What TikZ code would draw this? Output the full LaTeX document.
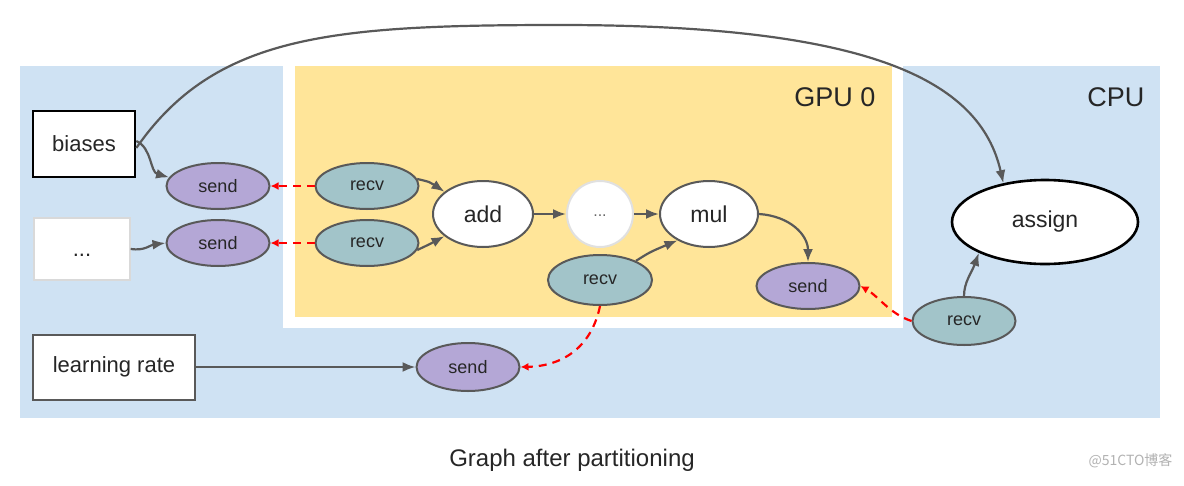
\documentclass[tikz,border=0pt]{standalone}
\usepackage{fontspec}
\setmainfont{Liberation Sans}
\newfontfamily\cjk{Noto Sans CJK SC}
\usetikzlibrary{shapes.geometric,arrows.meta}
\definecolor{cpubg}{HTML}{CFE2F3}
\definecolor{gpubg}{HTML}{FFE599}
\definecolor{sendfill}{HTML}{B4A7D6}
\definecolor{recvfill}{HTML}{A2C4C9}
\definecolor{edgegray}{HTML}{595959}
\definecolor{txtgray}{HTML}{262626}
\begin{document}
\begin{tikzpicture}[x=1pt,y=-1pt,
  boxnode/.style={draw=edgegray, line width=2pt, fill=white, rectangle, inner sep=0pt, text=txtgray, font=\fontsize{22}{26}\selectfont},
  sendnode/.style={ellipse, draw=edgegray, line width=2pt, fill=sendfill, inner sep=0pt, minimum width=103, minimum height=46, text=txtgray, font=\fontsize{18}{21}\selectfont},
  recvnode/.style={ellipse, draw=edgegray, line width=2pt, fill=recvfill, inner sep=0pt, minimum width=103, minimum height=46, text=txtgray, font=\fontsize{18}{21}\selectfont},
  opnode/.style={ellipse, draw=edgegray, line width=2pt, fill=white, inner sep=0pt, minimum width=100, minimum height=66, text=txtgray, font=\fontsize{23}{27}\selectfont},
  conn/.style={draw=edgegray, line width=2.2pt, -{Latex[length=13pt,width=10pt]}},
  rdash/.style={draw=red, line width=2.2pt, dash pattern=on 8pt off 6pt, -{Latex[length=8pt,width=8pt]}},
  devlabel/.style={anchor=east, text=txtgray, font=\fontsize{27}{31}\selectfont}
]
\useasboundingbox (0,0) rectangle (1184,485);
\fill[white] (0,0) rectangle (1184,485);
% regions
\fill[cpubg] (20,66) rectangle (1160,418);
\fill[white] (283,66) rectangle (903,328);
\fill[gpubg] (295,66) rectangle (892,317);
\node[devlabel] (gpulabel) at (879,97) {GPU 0};
\node[devlabel] (cpulabel) at (1148,97) {CPU};
% CPU source nodes
\node[boxnode, draw=black, line width=2.6pt, minimum width=102, minimum height=66] (biases) at (84,144) {biases};
\node[boxnode, draw=black!15, line width=1.4pt, minimum width=96, minimum height=62] (more) at (82,249) {};
\node[text=txtgray, font=\fontsize{22}{26}\selectfont, inner sep=0pt] (moretext) at (82,255) {...};
\node[boxnode, minimum width=162, minimum height=65] (lr) at (114,367) {learning rate};
\node[sendnode] (send1) at (218,186) {send};
\node[sendnode] (send2) at (218,243) {send};
\node[sendnode, minimum height=48] (send4) at (468,367) {send};
\node[opnode, draw=black, line width=2.6pt, minimum width=186, minimum height=84] (assign) at (1045,222) {assign};
\node[recvnode, minimum height=48] (recv4) at (964,321) {recv};
% GPU nodes
\node[recvnode] (recv1) at (367,186) {recv};
\node[recvnode] (recv2) at (367,243) {recv};
\node[opnode] (add) at (483,214) {add};
\node[opnode, circle, draw=black!12, minimum size=66, text=black!60, font=\fontsize{16}{20}\selectfont] (dots) at (600,214) {\raisebox{-4pt}{...}};
\node[opnode, minimum width=98] (mul) at (709,214) {mul};
\node[recvnode, minimum width=104, minimum height=50] (recv3) at (600,280) {recv};
\node[sendnode] (send3) at (808,286) {send};
% caption and watermark
\node[text=txtgray, font=\fontsize{24}{28}\selectfont] (caption) at (572,460) {Graph after partitioning};
\node[anchor=east, text=black!30, font=\cjk\fontsize{14}{16}\selectfont] (wm) at (1176,461) {@51CTO博客};
% connectors
\draw[conn] ([yshift=-4]biases.east) .. controls (215,35) and (330,25) .. (560,25) .. controls (870,25) and (980,80) .. (assign.137);
\draw[conn] ([yshift=3]biases.east) .. controls (152,148) and (150,172) .. (send1.170);
\draw[conn] (more.east) .. controls (145,251) and (150,245) .. (send2.west);
\draw[conn] (lr.east) -- (send4.west);
\draw[conn] (recv1.8) .. controls (430,182) .. (add.150);
\draw[conn] (recv2.-8) .. controls (430,244) .. (add.210);
\draw[conn] (add.east) -- (dots.west);
\draw[conn] (dots.east) -- (mul.west);
\draw[conn] (recv3.28) .. controls (650,252) .. (mul.220);
\draw[conn] (mul.east) .. controls (790,216) and (808,235) .. (send3.north);
\draw[conn] (recv4.north) .. controls (964,282) and (972,272) .. (assign.205);
\draw[rdash] (recv1.west) -- (send1.east);
\draw[rdash] (recv2.west) -- (send2.east);
\draw[rdash] (recv3.south) .. controls (592,345) and (565,366) .. (send4.east);
\draw[rdash] (recv4.west) .. controls (890,314) and (878,296) .. (send3.east);
\end{tikzpicture}
\end{document}
